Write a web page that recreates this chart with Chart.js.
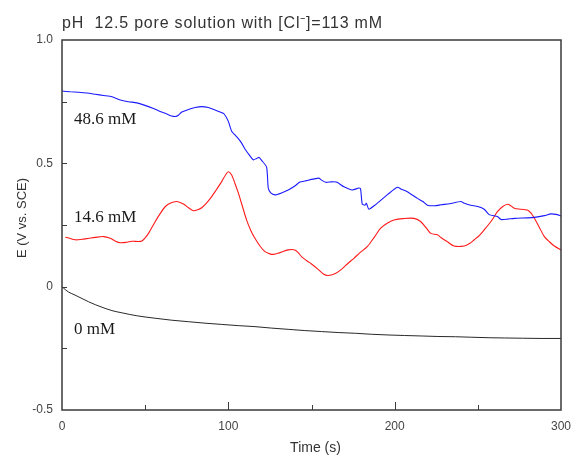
<!DOCTYPE html>
<html>
<head>
<meta charset="utf-8">
<title>pH 12.5 pore solution</title>
<script src="https://cdn.jsdelivr.net/npm/chart.js@4.4.1/dist/chart.umd.min.js"></script>
<style>
  html, body { margin: 0; padding: 0; background: #fff; }
  #wrap { width: 576px; height: 455px; position: relative; }
</style>
</head>
<body>
<div id="wrap"><canvas id="myChart" width="576" height="455"></canvas></div>
<script>
// potential transients, E (V vs. SCE) against time (s)
var seriesNames = ["48.6 mM", "14.6 mM", "0 mM"];

var timeBlue = [0, 5, 10, 15, 20, 25, 30, 35, 40, 45, 49, 55, 59, 63, 66, 68, 70, 72, 76, 80, 84, 88, 92, 95, 97.5,
    100, 102, 104, 106, 108, 110, 113, 115, 117, 118.5, 120, 123, 124, 125.5, 128, 132, 136, 140, 143, 147, 151,
    154.5, 156, 158.5, 162, 165, 169.5, 174.5, 178.5, 179.5, 180.5, 182, 183, 184.5, 188, 191.6, 196, 201.6, 204,
    207.6, 213.7, 217, 219.7, 224, 228, 233, 239.8, 242, 245.8, 250, 253.8, 256.8, 261.8, 264, 268, 272, 280, 284,
    290, 294, 297, 300];
var eBlue = [0.793, 0.790, 0.788, 0.785, 0.780, 0.775, 0.770, 0.757, 0.750, 0.745, 0.737, 0.722, 0.710, 0.700, 0.692,
    0.690, 0.695, 0.708, 0.718, 0.726, 0.730, 0.726, 0.716, 0.708, 0.700,
    0.670, 0.630, 0.615, 0.600, 0.582, 0.558, 0.530, 0.514, 0.520, 0.524, 0.512, 0.485, 0.400, 0.380, 0.372, 0.380,
    0.392, 0.408, 0.424, 0.430, 0.436,
    0.440, 0.432, 0.423, 0.425, 0.424, 0.405, 0.392, 0.400, 0.396, 0.335, 0.330, 0.338, 0.314, 0.330, 0.350, 0.375,
    0.403, 0.395,
    0.385, 0.358, 0.345, 0.330, 0.328, 0.332, 0.336, 0.345, 0.338, 0.330, 0.325, 0.314, 0.292, 0.284, 0.272, 0.274,
    0.277, 0.279, 0.281,
    0.288, 0.295, 0.293, 0.287];

var timeRed = [2, 4, 8, 12, 16, 20, 25, 29, 32, 35, 39, 42, 46, 48, 50, 52, 56, 59, 62, 65, 69, 73, 76, 79, 82, 84,
    87, 90, 93, 96, 98.5, 100, 102, 104, 106, 108.5, 111, 113.5, 116, 119, 122, 125, 127, 131, 136, 140, 142, 144,
    147, 150, 154, 157.4, 160, 164, 168, 172, 175.5, 179, 183.5, 188, 191.6, 195.5, 199.6, 205, 211.6, 215.6, 219,
    221.7, 225.7, 228, 231.7, 235.7, 241.8, 245, 247.8, 251, 253.8, 258, 261.8, 265, 267.9, 270, 271.9, 276, 280,
    282, 284, 287, 290, 293, 296, 300];
var eRed = [0.200, 0.197, 0.190, 0.192, 0.196, 0.200, 0.203, 0.196, 0.185, 0.178, 0.180, 0.184, 0.183, 0.185, 0.198,
    0.216, 0.263, 0.296, 0.324, 0.338, 0.345, 0.335, 0.320, 0.308, 0.313, 0.320,
    0.340, 0.365, 0.395, 0.426, 0.455, 0.466, 0.453, 0.418, 0.380, 0.325, 0.270, 0.228, 0.196, 0.165, 0.142, 0.133,
    0.131, 0.138, 0.149, 0.149, 0.138, 0.122,
    0.106, 0.092, 0.070, 0.050, 0.045, 0.052, 0.070, 0.095, 0.115, 0.137, 0.162, 0.203, 0.237, 0.257, 0.270, 0.276,
    0.277, 0.264, 0.238,
    0.216, 0.210, 0.198, 0.182, 0.165, 0.165, 0.175, 0.190, 0.208, 0.230, 0.265, 0.304, 0.325, 0.334, 0.327, 0.318,
    0.314, 0.310,
    0.298, 0.277, 0.240, 0.203, 0.182, 0.165, 0.149];

var timeBlack = [0, 2, 4, 7.8, 12, 15.9, 20, 25.9, 30, 36, 45, 56, 66, 76, 86, 96, 106, 116, 126, 136, 146, 156, 166,
    176.5, 186, 196.6, 206, 216.7, 226, 236.7, 246, 256.8, 266, 276.9, 288, 300];
var eBlack = [0.000, -0.012, -0.022, -0.034, -0.048, -0.061, -0.073, -0.088, -0.097, -0.106, -0.118, -0.128, -0.136,
    -0.142, -0.148, -0.153, -0.158, -0.162, -0.168, -0.173, -0.178, -0.182, -0.186,
    -0.189, -0.193, -0.196, -0.198, -0.200, -0.202, -0.203, -0.205, -0.207, -0.208, -0.209, -0.210, -0.210];

// labelled ticks
var xTickLabels = [0, 100, 200, 300];
var yTickLabels = { "1": "1.0", "0.5": "0.5", "0": "0", "-0.5": "-0.5" };

function pairs(ts, es) {
    return ts.map(function (t, i) { return { x: t, y: es[i] }; });
}

var sans = "'Liberation Sans', Arial, sans-serif";
var serif = "'Liberation Serif', 'Times New Roman', serif";

// frame, inward ticks, titles and curve names
var decorations = {
    id: 'decorations',
    afterDraw: function (chart) {
        var ctx = chart.ctx;
        var a = chart.chartArea;
        var xs = chart.scales.x, ys = chart.scales.y;
        ctx.save();

        ctx.strokeStyle = '#3a3a3a';
        ctx.lineWidth = 1.5;
        ctx.strokeRect(a.left, a.top, a.right - a.left, a.bottom - a.top);

        ctx.lineWidth = 1;
        ctx.beginPath();
        for (var t = 50; t < 300; t += 50) {
            var px = Math.round(xs.getPixelForValue(t)) + 0.5;
            var len = (t % 100 === 0) ? 8 : 5;
            ctx.moveTo(px, a.bottom);
            ctx.lineTo(px, a.bottom - len);
        }
        for (var v = -0.25; v < 1; v += 0.25) {
            var py = Math.round(ys.getPixelForValue(v)) + 0.5;
            ctx.moveTo(a.left, py);
            ctx.lineTo(a.left + 5, py);
        }
        ctx.stroke();

        ctx.fillStyle = '#333';
        ctx.textBaseline = 'alphabetic';
        ctx.textAlign = 'left';
        ctx.font = '16px ' + sans;
        ctx.letterSpacing = '0.8px';
        ctx.fillText('pH  12.5 pore solution with [Cl\u207B]=113 mM', a.left, 28);
        ctx.letterSpacing = '0px';

        ctx.textAlign = 'center';
        ctx.font = '14px ' + sans;
        ctx.fillText('Time (s)', (a.left + a.right) / 2 + 4, 452);

        ctx.save();
        ctx.translate(26, 218);
        ctx.rotate(-Math.PI / 2);
        ctx.font = '13px ' + sans;
        ctx.fillText('E (V vs. SCE)', 0, 0);
        ctx.restore();

        var notes = [[seriesNames[0], 0.66], [seriesNames[1], 0.264], [seriesNames[2], -0.192]];
        ctx.textAlign = 'left';
        ctx.fillStyle = '#1a1a1a';
        ctx.font = '17px ' + serif;
        notes.forEach(function (n) {
            ctx.fillText(n[0], a.left + 12, ys.getPixelForValue(n[1]));
        });
        ctx.restore();
    }
};

var ctx = document.getElementById('myChart').getContext('2d');
var myChart = new Chart(ctx, {
    type: 'line',
    data: {
        datasets: [{
            label: seriesNames[0],
            data: pairs(timeBlue, eBlue),
            borderColor: '#1a1aff',
            borderWidth: 1.1,
            tension: 0.2
        }, {
            label: seriesNames[1],
            data: pairs(timeRed, eRed),
            borderColor: '#ff1a1a',
            borderWidth: 1.1,
            tension: 0.3
        }, {
            label: seriesNames[2],
            data: pairs(timeBlack, eBlack),
            borderColor: '#111',
            borderWidth: 0.9,
            cubicInterpolationMode: 'monotone'
        }]
    },
    options: {
        responsive: false,
        animation: false,
        layout: { padding: { left: 0, right: 15, top: 40, bottom: 0 } },
        elements: { point: { radius: 0 } },
        plugins: { legend: { display: false }, tooltip: { enabled: false } },
        scales: {
            x: {
                type: 'linear',
                min: 0,
                max: 300,
                afterFit: function (s) { s.height = 45; s.paddingLeft = 0; s.paddingRight = 0; },
                afterBuildTicks: function (s) {
                    s.ticks = xTickLabels.map(function (v) { return { value: v }; });
                },
                grid: { display: false, drawTicks: false },
                border: { display: false },
                ticks: {
                    padding: 9,
                    color: '#444',
                    font: { family: sans, size: 12 },
                    maxRotation: 0
                }
            },
            y: {
                min: -0.5,
                max: 1.0,
                afterFit: function (s) { s.width = 62; s.paddingTop = 0; s.paddingBottom = 0; },
                afterBuildTicks: function (s) {
                    s.ticks = [-0.5, 0, 0.5, 1].map(function (v) { return { value: v }; });
                },
                grid: { display: false, drawTicks: false },
                border: { display: false },
                ticks: {
                    padding: 9,
                    color: '#444',
                    font: { family: sans, size: 12 },
                    callback: function (v) { return yTickLabels[String(v)]; }
                }
            }
        }
    },
    plugins: [decorations]
});
</script>
</body>
</html>
